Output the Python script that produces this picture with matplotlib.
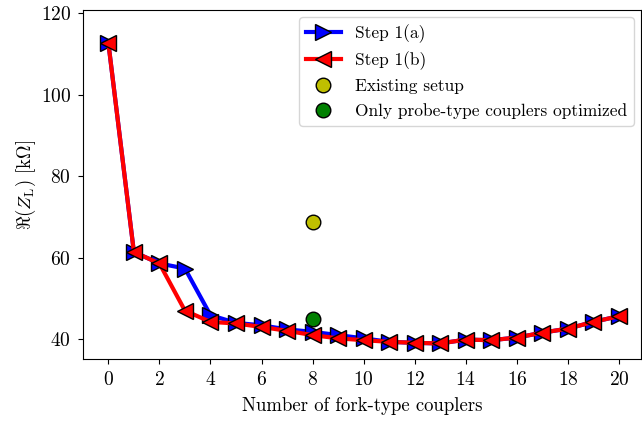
import numpy as np
import matplotlib
matplotlib.use("Agg")
import matplotlib.pyplot as plt

plt.rcParams['font.family'] = 'serif'
plt.rcParams['font.serif'] = ['cmr10']
plt.rcParams['mathtext.fontset'] = 'cm'
plt.rcParams['axes.unicode_minus'] = False
plt.rcParams['axes.formatter.use_mathtext'] = True

# number of fork-type couplers
n_fork = np.arange(0, 21)

# Re(Z_L) in kOhm
step_a = [112.8, 61.4, 58.6, 57.35, 45.9, 44.0, 43.4, 42.4, 41.8, 41.0, 40.2,
          39.35, 39.1, 38.95, 39.9, 39.75, 40.4, 41.6, 42.6, 44.25, 45.65]
step_b = [112.8, 61.4, 58.6, 47.0, 44.25, 43.85, 43.0, 42.05, 41.0, 40.2, 39.75,
          39.35, 39.1, 38.95, 39.9, 39.75, 40.4, 41.6, 42.6, 44.25, 45.65]

existing_x, existing_y = 8, 68.7
probe_x, probe_y = 8, 45.0

fig = plt.figure(figsize=(6.42, 4.24), dpi=100)
ax = fig.add_axes([0.129, 0.153, 0.869, 0.823])

ax.plot(n_fork, step_a, color='b', marker='>', ms=11, lw=3,
        mec='k', label='Step 1(a)')
ax.plot(n_fork, step_b, color='r', marker='<', ms=11, lw=3,
        mec='k', label='Step 1(b)')
ax.plot(existing_x, existing_y, 'o', color='y', ms=10.5, mec='k',
        label='Existing setup')
ax.plot(probe_x, probe_y, 'o', color='g', ms=10.5, mec='k',
        label='Only probe-type couplers optimized')

ax.set_xlim(-1, 20.85)
ax.set_ylim(35.1, 120.8)
ax.set_xticks(range(0, 21, 2))
ax.set_yticks([40, 60, 80, 100, 120])
ax.tick_params(labelsize=14, pad=5)
ax.set_xlabel('Number of fork-type couplers', fontsize=13.5, labelpad=6)
ax.set_ylabel(r'$\Re(Z_{\rm L})$ [k$\Omega$]', fontsize=13.5, labelpad=2)
ax.legend(loc='upper right', fontsize=12.5, borderaxespad=0.4)

fig.savefig('out.png', dpi=100)
